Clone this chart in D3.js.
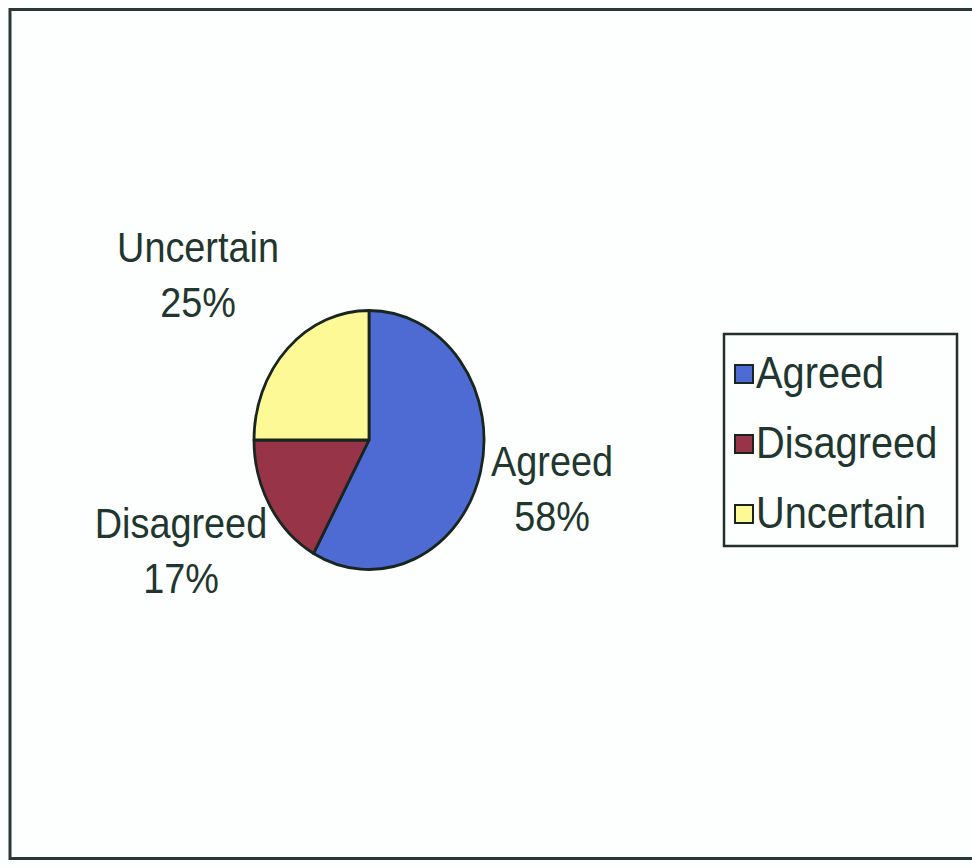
<!DOCTYPE html>
<html>
<head>
<meta charset="utf-8">
<script src="https://cdn.jsdelivr.net/npm/d3@7/dist/d3.min.js"></script>
<style>
  html, body { margin: 0; padding: 0; background: #fdfefe; }
  svg { display: block; }
  text { font-family: "Liberation Sans", Arial, sans-serif; fill: #1f372e; }
</style>
</head>
<body>
<script>
// Survey responses, share of respondents (%)
const categories = ["Agreed", "Disagreed", "Uncertain"];
const values = [58, 17, 25];
const sliceColors = ["#4d6bd2", "#983447", "#fcf996"];

const W = 972, H = 868;
const svg = d3.select("body").append("svg")
  .attr("width", W).attr("height", H);

// Outer chart frame (right edge runs past the page)
svg.append("rect")
  .attr("x", 10).attr("y", 9.5)
  .attr("width", 1000).attr("height", 849)
  .attr("fill", "#fdfefe")
  .attr("stroke", "#2b3636").attr("stroke-width", 3);

// Pie geometry: drawn on a unit circle, stretched into an ellipse
const cx = 369, cy = 440, rx = 115, ry = 129.5;

const pie = d3.pie().sort(null).value(d => d.value);
const arcs = pie(categories.map((c, i) => ({ name: c, value: values[i], color: sliceColors[i] })));
const arc = d3.arc().innerRadius(0).outerRadius(1);

const pieG = svg.append("g")
  .attr("transform", `translate(${cx},${cy}) scale(${rx},${ry})`);

pieG.selectAll("path")
  .data(arcs)
  .join("path")
  .attr("d", arc)
  .attr("fill", d => d.data.color)
  .attr("stroke", "#18261f")
  .attr("stroke-width", 2.8)
  .attr("vector-effect", "non-scaling-stroke")
  .attr("stroke-linejoin", "round");

// Data labels: category name and percentage, placed outside the slice
const labelFont = 39;
const lineGap = 55;
const textStretch = "scale(0.97,1.08)";
const labelOffset = {
  Agreed:    { x: 183, y: 36 },
  Disagreed: { x: -188, y: 98 },
  Uncertain: { x: -171, y: -178 }
};

const labels = svg.append("g");
arcs.forEach(d => {
  const off = labelOffset[d.data.name];
  const g = labels.append("g")
    .attr("transform", `translate(${cx + off.x},${cy + off.y}) ${textStretch}`);
  g.append("text")
    .attr("text-anchor", "middle")
    .attr("font-size", labelFont)
    .text(d.data.name);
  g.append("text")
    .attr("text-anchor", "middle")
    .attr("y", lineGap / 1.08)
    .attr("font-size", labelFont)
    .text(Math.round(d.data.value) + "%");
});

// Legend
const lgX = 724, lgY = 334, lgW = 233, lgH = 212;
const legendFont = 41;
const legend = svg.append("g");
legend.append("rect")
  .attr("x", lgX).attr("y", lgY)
  .attr("width", lgW).attr("height", lgH)
  .attr("fill", "#fdfefe")
  .attr("stroke", "#22302c").attr("stroke-width", 2.5);

const rowY = d3.scalePoint().domain(categories).range([lgY + 40, lgY + 180]);

const rows = legend.selectAll("g.row")
  .data(arcs)
  .join("g")
  .attr("class", "row")
  .attr("transform", d => `translate(${lgX}, ${rowY(d.data.name)})`);

rows.append("rect")
  .attr("x", 11).attr("y", -9)
  .attr("width", 18).attr("height", 18)
  .attr("fill", d => d.data.color)
  .attr("stroke", "#18261f").attr("stroke-width", 2);

rows.append("text")
  .attr("transform", `translate(32,14) ${textStretch}`)
  .attr("font-size", legendFont)
  .text(d => d.data.name);
</script>
</body>
</html>
